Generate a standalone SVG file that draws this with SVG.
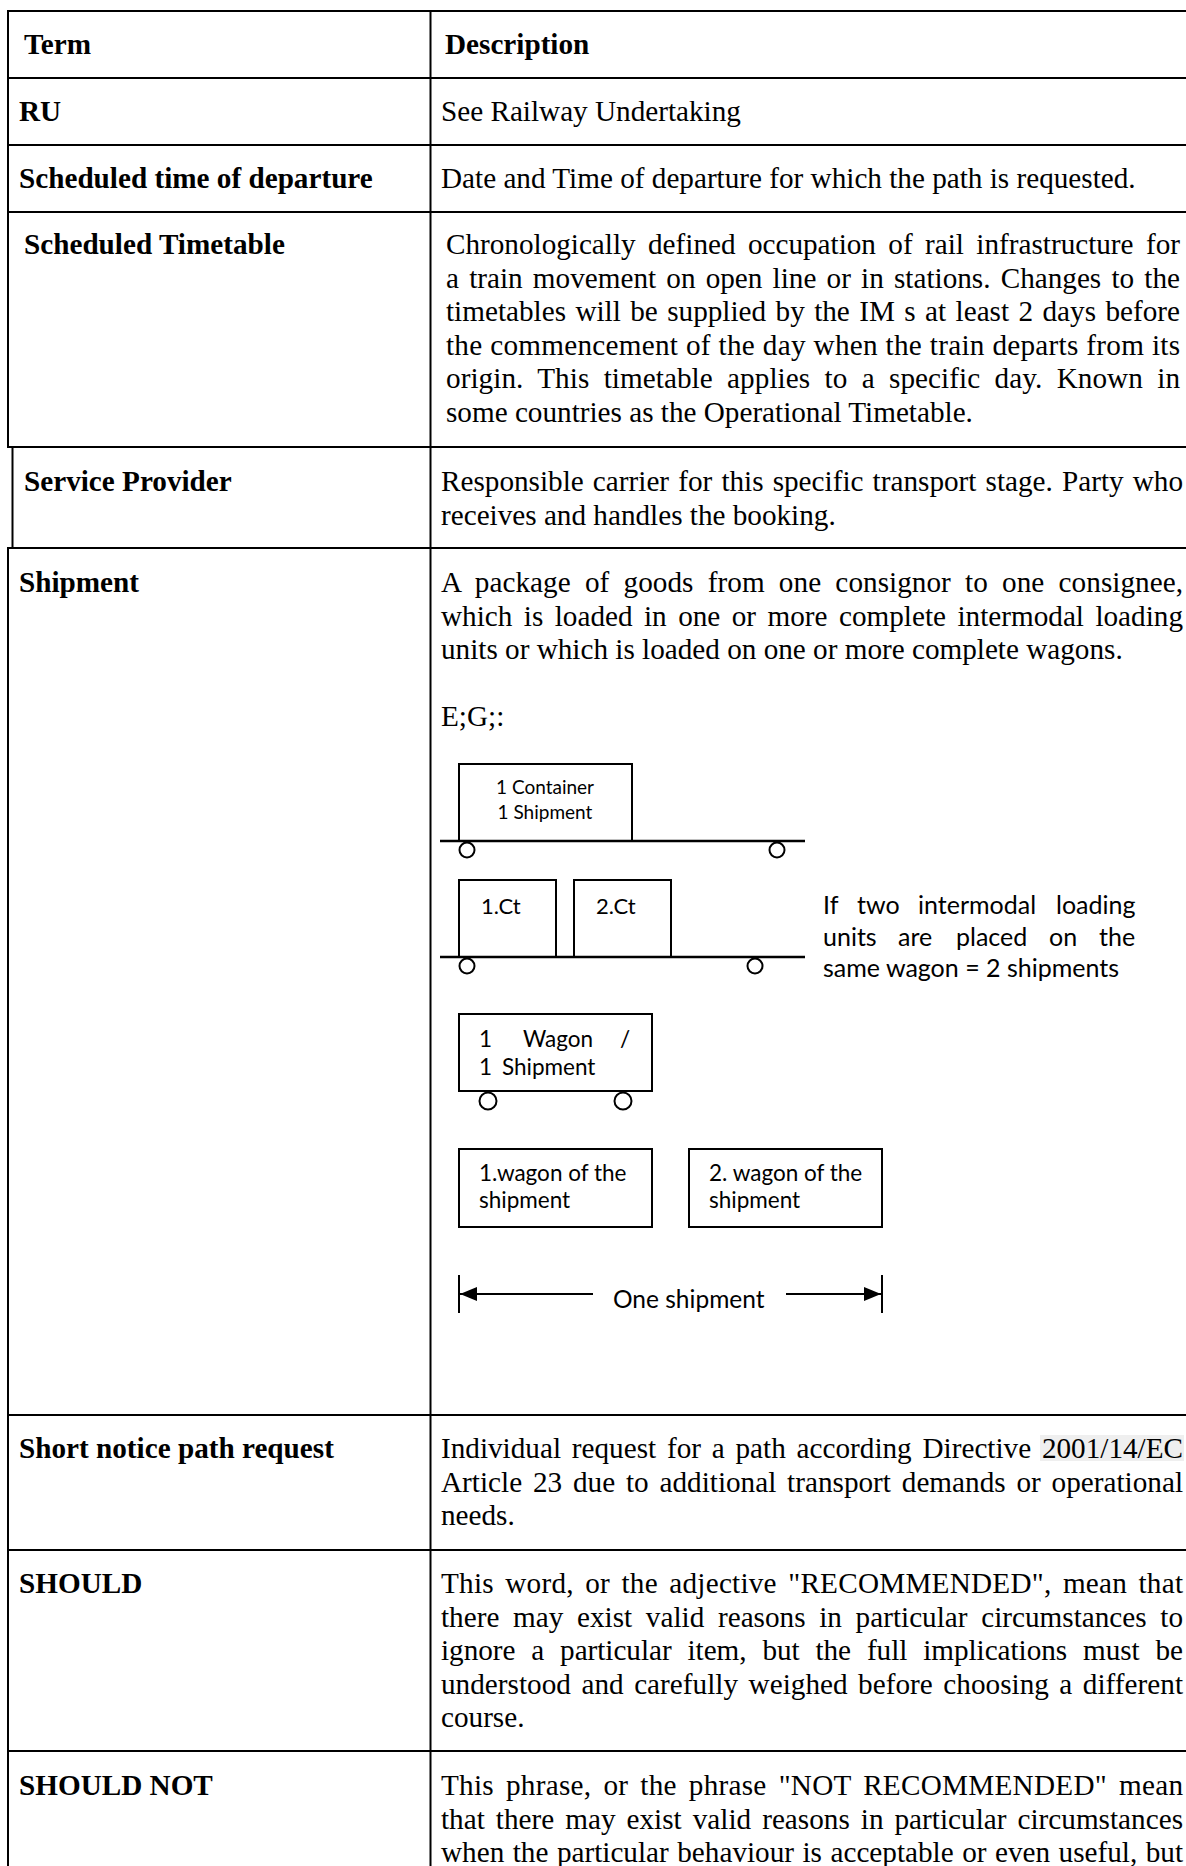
<svg xmlns="http://www.w3.org/2000/svg" width="1186" height="1866" viewBox="0 0 1186 1866">
<defs>
<style>
.grid{stroke:#000;stroke-width:2;fill:none}
.t{font-family:"Liberation Serif","Times New Roman",serif;font-size:29.2px;fill:#000}
.b{font-weight:bold}
.box{fill:none;stroke:#000;stroke-width:2}
.rail{stroke:#000;stroke-width:2.5}
.wheel{fill:#fff;stroke:#000;stroke-width:2}
.l{font-family:Lato,"Open Sans",sans-serif;fill:#000}
.dim{stroke:#000;stroke-width:2;fill:none}
</style>
<marker id="arr" markerUnits="userSpaceOnUse" markerWidth="18" markerHeight="14" refX="17" refY="7" orient="auto"><path d="M0,0 L17,7 L0,14 z" fill="#000"/></marker>
</defs>
<rect width="1186" height="1866" fill="#fff"/>

<g id="grid" class="grid">
<line x1="7" y1="11" x2="1186" y2="11"/>
<line x1="7" y1="78" x2="1186" y2="78"/>
<line x1="7" y1="145" x2="1186" y2="145"/>
<line x1="7" y1="212" x2="1186" y2="212"/>
<line x1="7" y1="447" x2="1186" y2="447"/>
<line x1="7" y1="548" x2="1186" y2="548"/>
<line x1="7" y1="1415" x2="1186" y2="1415"/>
<line x1="7" y1="1550" x2="1186" y2="1550"/>
<line x1="7" y1="1751" x2="1186" y2="1751"/>
<line x1="8" y1="10" x2="8" y2="448"/>
<line x1="12.5" y1="446" x2="12.5" y2="549"/>
<line x1="8" y1="547" x2="8" y2="1866"/>
<line x1="430.5" y1="10" x2="430.5" y2="1866"/>
</g>

<g id="row-header">
<text class="t b" x="24" y="53.5">Term</text>
<text class="t b" x="445" y="53.5">Description</text>
</g>

<g id="row-ru">
<text class="t b" x="19" y="121">RU</text>
<text class="t" x="441" y="121">See Railway Undertaking</text>
</g>

<g id="row-scheduled-time">
<text class="t b" x="19" y="187.5">Scheduled time of departure</text>
<text class="t" x="441" y="187.5">Date and Time of departure for which the path is requested.</text>
</g>

<g id="row-scheduled-timetable">
<text class="t b" x="24" y="254">Scheduled Timetable</text>
<text class="t" x="446" y="254" style="word-spacing:5.1px" textLength="734" lengthAdjust="spacing">Chronologically defined occupation of rail infrastructure for</text>
<text class="t" x="446" y="287.5" style="word-spacing:2.9px" textLength="734" lengthAdjust="spacing">a train movement on open line or in stations. Changes to the</text>
<text class="t" x="446" y="321" style="word-spacing:2.1px" textLength="734" lengthAdjust="spacing">timetables will be supplied by the IM s at least 2 days before</text>
<text class="t" x="446" y="354.5" style="word-spacing:0.25px" textLength="734" lengthAdjust="spacing">the commencement of the day when the train departs from its</text>
<text class="t" x="446" y="388" style="word-spacing:7px" textLength="734" lengthAdjust="spacing">origin. This timetable applies to a specific day. Known in</text>
<text class="t" x="446" y="421.5">some countries as the Operational Timetable.</text>
</g>

<g id="row-service-provider">
<text class="t b" x="24" y="491">Service Provider</text>
<text class="t" x="441" y="491" style="word-spacing:1.8px" textLength="742" lengthAdjust="spacing">Responsible carrier for this specific transport stage. Party who</text>
<text class="t" x="441" y="524.5">receives and handles the booking.</text>
</g>

<g id="row-shipment">
<text class="t b" x="19" y="592.3">Shipment</text>
<text class="t" x="441" y="592.3" style="word-spacing:6.9px" textLength="742" lengthAdjust="spacing">A package of goods from one consignor to one consignee,</text>
<text class="t" x="441" y="625.8" style="word-spacing:4.1px" textLength="742" lengthAdjust="spacing">which is loaded in one or more complete intermodal loading</text>
<text class="t" x="441" y="659.3">units or which is loaded on one or more complete wagons.</text>
<text class="t" x="441" y="726">E;G;:</text>
</g>

<g id="diagram-container-wagon">
<rect class="box" x="459" y="764" width="173" height="77"/>
<line class="rail" x1="440" y1="841" x2="805" y2="841"/>
<circle class="wheel" cx="467" cy="850" r="7.5"/>
<circle class="wheel" cx="777" cy="850" r="7.5"/>
<text class="l" x="545" y="794" font-size="19" text-anchor="middle">1 Container</text>
<text class="l" x="545" y="819" font-size="19" text-anchor="middle">1 Shipment</text>
</g>

<g id="diagram-two-containers">
<rect class="box" x="459" y="880" width="97" height="77"/>
<rect class="box" x="574" y="880" width="97" height="77"/>
<line class="rail" x1="440" y1="957" x2="805" y2="957"/>
<circle class="wheel" cx="467" cy="966" r="7.5"/>
<circle class="wheel" cx="755" cy="966" r="7.5"/>
<text class="l" x="481" y="914" font-size="22">1.Ct</text>
<text class="l" x="596" y="914" font-size="22">2.Ct</text>
</g>

<g id="diagram-note" class="l" font-size="25">
<text x="823" y="914">If</text>
<text x="857" y="914">two</text>
<text x="918" y="914">intermodal</text>
<text x="1056" y="914">loading</text>
<text x="823" y="946">units</text>
<text x="898" y="946">are</text>
<text x="956" y="946">placed</text>
<text x="1049" y="946">on</text>
<text x="1099" y="946">the</text>
<text x="823" y="977">same wagon = 2 shipments</text>
</g>

<g id="diagram-wagon">
<rect class="box" x="459" y="1014" width="193" height="77"/>
<circle class="wheel" cx="488" cy="1101" r="8.5"/>
<circle class="wheel" cx="623" cy="1101" r="8.5"/>
<text class="l" x="479" y="1047" font-size="22.5">1</text>
<text class="l" x="523" y="1047" font-size="22.5">Wagon</text>
<text class="l" x="620" y="1047" font-size="22.5">/</text>
<text class="l" x="479" y="1075" font-size="22.5">1</text>
<text class="l" x="502" y="1075" font-size="22.5">Shipment</text>
</g>

<g id="diagram-wagon-1">
<rect class="box" x="459" y="1149" width="193" height="78"/>
<text class="l" x="479" y="1181" font-size="22.5">1.wagon of the</text>
<text class="l" x="479" y="1208" font-size="22.5">shipment</text>
</g>

<g id="diagram-wagon-2">
<rect class="box" x="689" y="1149" width="193" height="78"/>
<text class="l" x="709" y="1181" font-size="22.5">2. wagon of the</text>
<text class="l" x="709" y="1208" font-size="22.5">shipment</text>
</g>

<g id="connectors">
<line class="dim" x1="459" y1="1275" x2="459" y2="1313"/>
<line class="dim" x1="882" y1="1275" x2="882" y2="1313"/>
<line class="dim" x1="593" y1="1294" x2="460" y2="1294" marker-end="url(#arr)"/>
<line class="dim" x1="786" y1="1294" x2="881" y2="1294" marker-end="url(#arr)"/>
</g>
<g id="dimension-label">
<text class="l" x="613" y="1308" font-size="24.5">One shipment</text>
</g>

<g id="row-short-notice">
<text class="t b" x="19" y="1458.3">Short notice path request</text>
<rect x="1040" y="1435" width="144" height="26" fill="#efefef"/>
<text class="t" x="441" y="1458.3" style="word-spacing:3.5px" textLength="742" lengthAdjust="spacing">Individual request for a path according Directive 2001/14/EC</text>
<text class="t" x="441" y="1491.8" style="word-spacing:3.5px" textLength="742" lengthAdjust="spacing">Article 23 due to additional transport demands or operational</text>
<text class="t" x="441" y="1525.3">needs.</text>
</g>

<g id="row-should">
<text class="t b" x="19" y="1593.3">SHOULD</text>
<text class="t" x="441" y="1593.3" style="word-spacing:3.9px" textLength="742" lengthAdjust="spacing">This word, or the adjective "RECOMMENDED", mean that</text>
<text class="t" x="441" y="1626.8" style="word-spacing:6.4px" textLength="742" lengthAdjust="spacing">there may exist valid reasons in particular circumstances to</text>
<text class="t" x="441" y="1660.3" style="word-spacing:8.6px" textLength="742" lengthAdjust="spacing">ignore a particular item, but the full implications must be</text>
<text class="t" x="441" y="1693.8" style="word-spacing:3.2px" textLength="742" lengthAdjust="spacing">understood and carefully weighed before choosing a different</text>
<text class="t" x="441" y="1727.3">course.</text>
</g>

<g id="row-should-not">
<text class="t b" x="19" y="1795">SHOULD NOT</text>
<text class="t" x="441" y="1795" style="word-spacing:4.5px" textLength="742" lengthAdjust="spacing">This phrase, or the phrase "NOT RECOMMENDED" mean</text>
<text class="t" x="441" y="1828.5" style="word-spacing:3.7px" textLength="742" lengthAdjust="spacing">that there may exist valid reasons in particular circumstances</text>
<text class="t" x="441" y="1862" style="word-spacing:1.2px" textLength="742" lengthAdjust="spacing">when the particular behaviour is acceptable or even useful, but</text>
</g>
</svg>
